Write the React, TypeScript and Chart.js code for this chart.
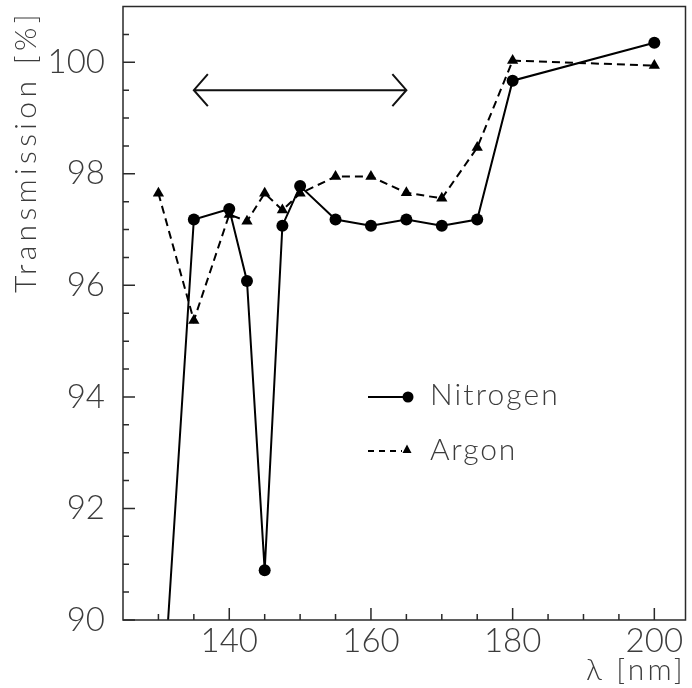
import React, { useEffect, useRef } from "react";
import { Chart, registerables } from "chart.js";

Chart.register(...registerables);

// ---- data ----
const wavelengths = [130, 135, 140, 142.5, 145, 147.5, 150, 155, 160, 165, 170, 175, 180, 200];
const nitrogen = [87.3, 97.18, 97.37, 96.08, 90.89, 97.07, 97.78, 97.18, 97.07, 97.18, 97.07, 97.18, 99.67, 100.35];
const argon = [97.65, 95.37, 97.27, 97.15, 97.65, 97.35, 97.65, 97.95, 97.95, 97.66, 97.56, 98.47, 100.03, 99.94];

const xTickValues = [130, 135, 140, 145, 150, 155, 160, 165, 170, 175, 180, 185, 190, 195, 200];
const xLabelValues = [140, 160, 180, 200];
const yTickValues = [90, 90.5, 91, 91.5, 92, 92.5, 93, 93.5, 94, 94.5, 95, 95.5, 96, 96.5, 97, 97.5, 98, 98.5, 99, 99.5, 100, 100.5];
const yLabelValues = [90, 92, 94, 96, 98, 100];

const arrowRange = [135, 165];
const arrowLevel = 99.5;

const seriesNames = ["Nitrogen", "Argon"];
const xTitle = "λ [nm]";
const yTitle = "Transmission [%]";

const X_MIN = 125;
const X_MAX = 204.4;
const Y_MIN = 90;
const Y_MAX = 101;

const FONT = "Lato, 'DejaVu Sans', sans-serif";
const TEXT = "#3c3c3c";

function spacedText(ctx: CanvasRenderingContext2D, text: string, x: number, y: number, target: number) {
  ctx.letterSpacing = "0px";
  const w = ctx.measureText(text).width;
  const sp = (target - w) / Math.max(1, text.length);
  ctx.letterSpacing = sp.toFixed(2) + "px";
  ctx.fillText(text, x, y);
  ctx.letterSpacing = "0px";
}

export default function App() {
  const ref = useRef<HTMLCanvasElement>(null);

  useEffect(() => {
    const canvas = ref.current!;
    const overlay = {
      id: "overlay",
      afterDraw(chart: any) {
        const { ctx, chartArea: a, scales } = chart;
        const x = scales.x;
        const y = scales.y;
        ctx.save();
        // frame
        ctx.strokeStyle = "#2a2a2a";
        ctx.lineWidth = 1.5;
        ctx.strokeRect(a.left, a.top, a.right - a.left, a.bottom - a.top);
        // inward ticks
        ctx.beginPath();
        xTickValues.forEach((v) => {
          const px = x.getPixelForValue(v);
          const L = xLabelValues.includes(v) ? 12 : 6;
          ctx.moveTo(px, a.bottom);
          ctx.lineTo(px, a.bottom - L);
        });
        yTickValues.forEach((v) => {
          const py = y.getPixelForValue(v);
          const L = yLabelValues.includes(v) ? 12 : 6;
          ctx.moveTo(a.left, py);
          ctx.lineTo(a.left + L, py);
        });
        ctx.stroke();

        // double arrow
        const ax1 = x.getPixelForValue(arrowRange[0]);
        const ax2 = x.getPixelForValue(arrowRange[1]);
        const ay = y.getPixelForValue(arrowLevel);
        ctx.strokeStyle = "#111";
        ctx.lineWidth = 2;
        ctx.beginPath();
        ctx.moveTo(ax1, ay);
        ctx.lineTo(ax2, ay);
        ctx.moveTo(ax1 + 14, ay - 16);
        ctx.lineTo(ax1, ay);
        ctx.lineTo(ax1 + 14, ay + 16);
        ctx.moveTo(ax2 - 14, ay - 16);
        ctx.lineTo(ax2, ay);
        ctx.lineTo(ax2 - 14, ay + 16);
        ctx.stroke();

        // legend
        ctx.strokeStyle = "#000";
        ctx.fillStyle = "#000";
        ctx.lineWidth = 2;
        ctx.beginPath();
        ctx.moveTo(368, 397);
        ctx.lineTo(408, 397);
        ctx.stroke();
        ctx.beginPath();
        ctx.arc(408, 397, 5.5, 0, Math.PI * 2);
        ctx.fill();
        ctx.setLineDash([6, 5]);
        ctx.beginPath();
        ctx.moveTo(368, 451);
        ctx.lineTo(402, 451);
        ctx.stroke();
        ctx.setLineDash([]);
        ctx.beginPath();
        ctx.moveTo(407, 444.5);
        ctx.lineTo(411.5, 453);
        ctx.lineTo(402.5, 453);
        ctx.closePath();
        ctx.fill();

        ctx.fillStyle = TEXT;
        ctx.font = `300 30px ${FONT}`;
        ctx.textAlign = "left";
        ctx.textBaseline = "alphabetic";
        spacedText(ctx, seriesNames[0], 430, 405, 130);
        spacedText(ctx, seriesNames[1], 430, 460, 87);

        // axis titles
        ctx.textAlign = "right";
        spacedText(ctx, xTitle, 686, 680, 100);
        ctx.translate(36, 10);
        ctx.rotate(-Math.PI / 2);
        ctx.textAlign = "right";
        spacedText(ctx, yTitle, 0, 0, 283);
        ctx.restore();
      },
    };

    const chart = new Chart(canvas, {
      type: "line",
      data: {
        datasets: [
          {
            label: seriesNames[0],
            data: wavelengths.map((w, i) => ({ x: w, y: nitrogen[i] })),
            borderColor: "#000",
            backgroundColor: "#000",
            borderWidth: 2,
            pointStyle: "circle",
            pointRadius: 6,
            pointBorderWidth: 0,
            tension: 0,
          },
          {
            label: seriesNames[1],
            data: wavelengths.map((w, i) => ({ x: w, y: argon[i] })),
            borderColor: "#000",
            backgroundColor: "#000",
            borderWidth: 2,
            borderDash: [8, 5],
            pointStyle: "triangle",
            pointRadius: 6.5,
            pointBorderWidth: 0,
            tension: 0,
          },
        ],
      },
      options: {
        responsive: false,
        animation: false,
        layout: { padding: { top: 6, right: 6, left: 0, bottom: 0 } },
        plugins: { legend: { display: false }, tooltip: { enabled: false } },
        scales: {
          x: {
            type: "linear",
            min: X_MIN,
            max: X_MAX,
            afterBuildTicks: (s: any) => {
              s.ticks = xTickValues.map((v) => ({ value: v }));
            },
            afterFit: (s: any) => {
              s.height = 68;
              s.paddingLeft = 0;
              s.paddingRight = 0;
              s.paddingTop = 0;
              s.paddingBottom = 0;
            },
            grid: { display: false, drawTicks: false },
            border: { display: false },
            ticks: {
              autoSkip: false,
              maxRotation: 0,
              padding: 2,
              color: TEXT,
              font: { family: FONT, size: 33, weight: "300" as any },
              callback: (v: any) => (xLabelValues.includes(Number(v)) ? String(v) : ""),
            },
          },
          y: {
            type: "linear",
            min: Y_MIN,
            max: Y_MAX,
            afterBuildTicks: (s: any) => {
              s.ticks = yTickValues.map((v) => ({ value: v }));
            },
            afterFit: (s: any) => {
              s.width = 123;
              s.paddingLeft = 0;
              s.paddingRight = 0;
              s.paddingTop = 0;
              s.paddingBottom = 0;
            },
            grid: { display: false, drawTicks: false },
            border: { display: false },
            ticks: {
              autoSkip: false,
              padding: 18,
              color: TEXT,
              font: { family: FONT, size: 33, weight: "300" as any },
              callback: (v: any) => (yLabelValues.includes(Number(v)) ? String(v) : ""),
            },
          },
        },
      },
      plugins: [overlay],
    });
    return () => chart.destroy();
  }, []);

  return (
    <div style={{ position: "fixed", left: 0, top: 0, width: 692, height: 688, background: "#fff" }}>
      <canvas ref={ref} width={692} height={688} style={{ display: "block" }} />
    </div>
  );
}
